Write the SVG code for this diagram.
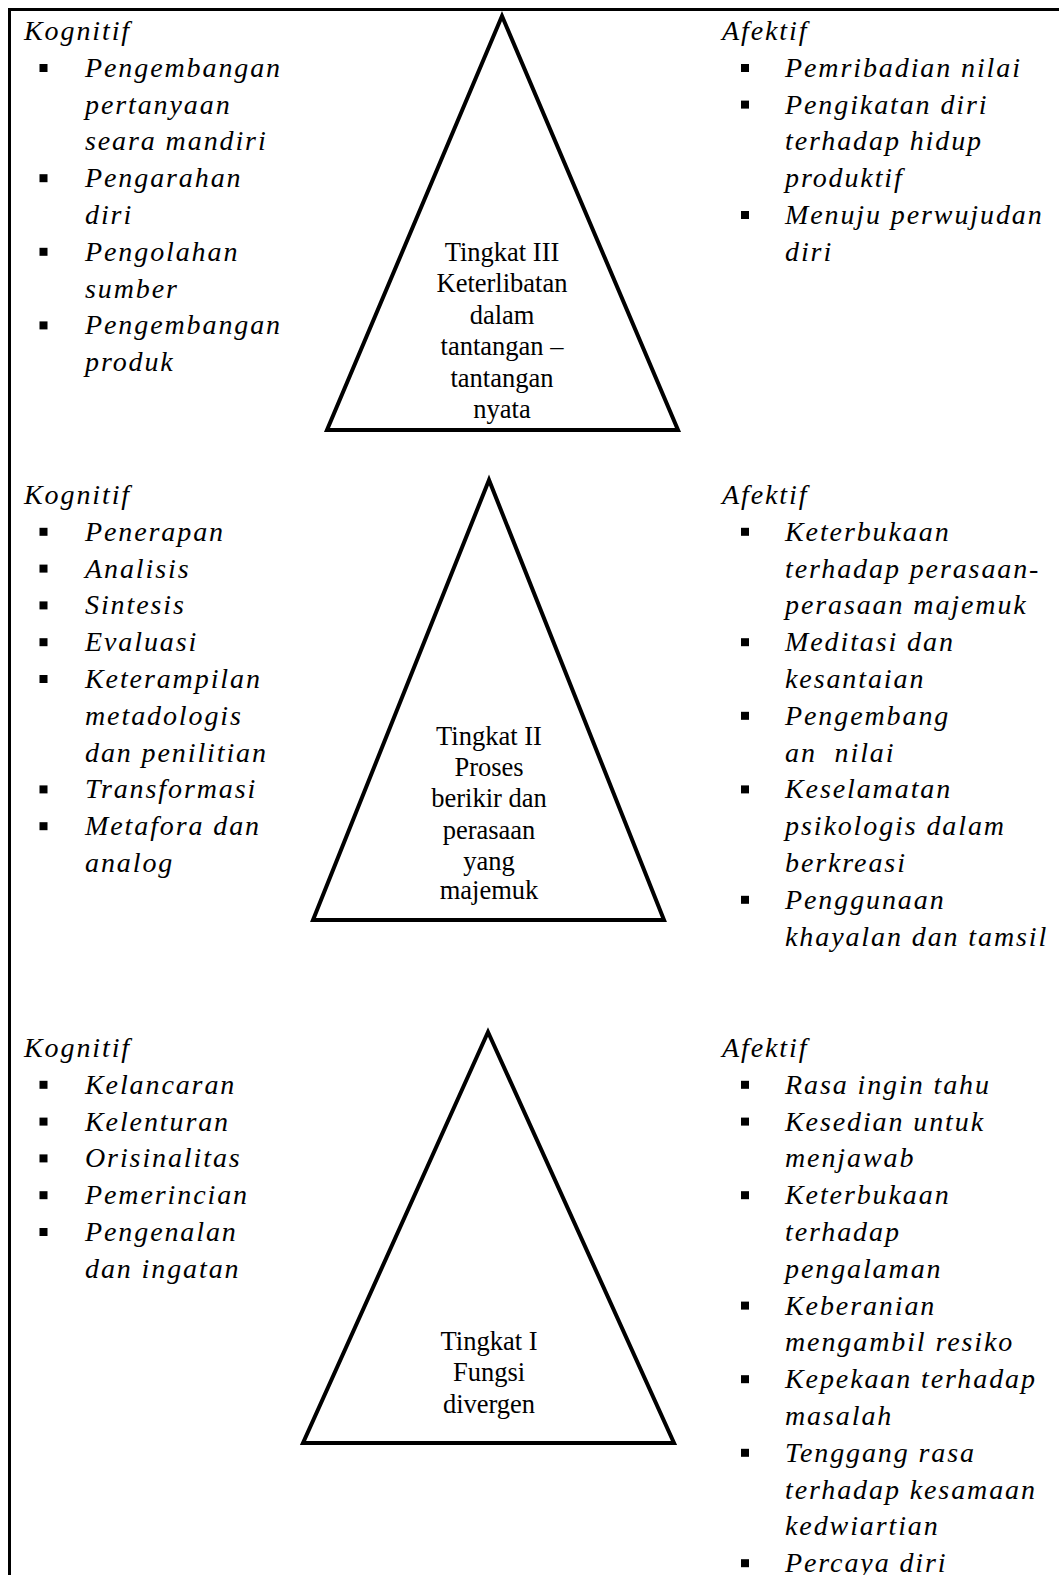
<svg xmlns="http://www.w3.org/2000/svg" width="1059" height="1575" viewBox="0 0 1059 1575">
<style>
.it{font-family:"Liberation Serif","Times New Roman",serif;font-style:italic;font-size:28px;letter-spacing:1.9px;fill:#000}
.tl{font-family:"Liberation Serif","Times New Roman",serif;font-size:26.5px;fill:#000;text-anchor:middle}
.tri{fill:none;stroke:#000;stroke-width:4;stroke-linejoin:miter}
.bd{fill:none;stroke:#000;stroke-width:3}
.b{fill:#000}
</style>
<rect width="1059" height="1575" fill="#fff"/>
<path class="bd" d="M9.5 1575 V9.5 H1059"/>
<g id="connectors"></g>

<g id="tingkat3">
<polygon class="tri" points="502,16 327,430 678,430"/>
<text class="tl" x="502" y="261">Tingkat III</text>
<text class="tl" x="502" y="292.4">Keterlibatan</text>
<text class="tl" x="502" y="323.8">dalam</text>
<text class="tl" x="502" y="355.2">tantangan –</text>
<text class="tl" x="502" y="386.6">tantangan</text>
<text class="tl" x="502" y="418">nyata</text>
</g>

<g id="tingkat2">
<polygon class="tri" points="489,480 313,920 664,920"/>
<text class="tl" x="489" y="744.5">Tingkat II</text>
<text class="tl" x="489" y="775.9">Proses</text>
<text class="tl" x="489" y="807.3">berikir dan</text>
<text class="tl" x="489" y="838.7">perasaan</text>
<text class="tl" x="489" y="870.1">yang</text>
<text class="tl" x="489" y="899">majemuk</text>
</g>

<g id="tingkat1">
<polygon class="tri" points="488,1032 303,1443 674,1443"/>
<text class="tl" x="489" y="1350">Tingkat I</text>
<text class="tl" x="489" y="1381.4">Fungsi</text>
<text class="tl" x="489" y="1412.8">divergen</text>
</g>

<g id="kognitif3">
<text class="it" x="24" y="40">Kognitif</text>
<rect class="b" x="39.5" y="64" width="8" height="8"/>
<text class="it" x="85" y="76.8">Pengembangan</text>
<text class="it" x="85" y="113.6">pertanyaan</text>
<text class="it" x="85" y="150.4">seara mandiri</text>
<rect class="b" x="39.5" y="174.2" width="8" height="8"/>
<text class="it" x="85" y="187.2">Pengarahan</text>
<text class="it" x="85" y="224">diri</text>
<rect class="b" x="39.5" y="247.8" width="8" height="8"/>
<text class="it" x="85" y="260.8">Pengolahan</text>
<text class="it" x="85" y="297.6">sumber</text>
<rect class="b" x="39.5" y="321.4" width="8" height="8"/>
<text class="it" x="85" y="334.4">Pengembangan</text>
<text class="it" x="85" y="371.2">produk</text>
</g>

<g id="afektif3">
<text class="it" x="722" y="40">Afektif</text>
<rect class="b" x="741" y="64" width="8" height="8"/>
<text class="it" x="785" y="76.8">Pemribadian nilai</text>
<rect class="b" x="741" y="100.6" width="8" height="8"/>
<text class="it" x="785" y="113.6">Pengikatan diri</text>
<text class="it" x="785" y="150.4">terhadap hidup</text>
<text class="it" x="785" y="187.2">produktif</text>
<rect class="b" x="741" y="211" width="8" height="8"/>
<text class="it" x="785" y="224">Menuju perwujudan</text>
<text class="it" x="785" y="260.8">diri</text>
</g>

<g id="kognitif2">
<text class="it" x="24" y="504">Kognitif</text>
<rect class="b" x="39.5" y="527.8" width="8" height="8"/>
<text class="it" x="85" y="540.8">Penerapan</text>
<rect class="b" x="39.5" y="564.6" width="8" height="8"/>
<text class="it" x="85" y="577.6">Analisis</text>
<rect class="b" x="39.5" y="601.4" width="8" height="8"/>
<text class="it" x="85" y="614.4">Sintesis</text>
<rect class="b" x="39.5" y="638.2" width="8" height="8"/>
<text class="it" x="85" y="651.2">Evaluasi</text>
<rect class="b" x="39.5" y="675" width="8" height="8"/>
<text class="it" x="85" y="688">Keterampilan</text>
<text class="it" x="85" y="724.8">metadologis</text>
<text class="it" x="85" y="761.6">dan penilitian</text>
<rect class="b" x="39.5" y="785.4" width="8" height="8"/>
<text class="it" x="85" y="798.4">Transformasi</text>
<rect class="b" x="39.5" y="822.2" width="8" height="8"/>
<text class="it" x="85" y="835.2">Metafora dan</text>
<text class="it" x="85" y="872">analog</text>
</g>

<g id="afektif2">
<text class="it" x="722" y="504">Afektif</text>
<rect class="b" x="741" y="527.8" width="8" height="8"/>
<text class="it" x="785" y="540.8">Keterbukaan</text>
<text class="it" x="785" y="577.6">terhadap perasaan-</text>
<text class="it" x="785" y="614.4">perasaan majemuk</text>
<rect class="b" x="741" y="638.2" width="8" height="8"/>
<text class="it" x="785" y="651.2">Meditasi dan</text>
<text class="it" x="785" y="688">kesantaian</text>
<rect class="b" x="741" y="711.8" width="8" height="8"/>
<text class="it" x="785" y="724.8">Pengembang</text>
<text class="it" x="785" y="761.6">an&#160; nilai</text>
<rect class="b" x="741" y="785.4" width="8" height="8"/>
<text class="it" x="785" y="798.4">Keselamatan</text>
<text class="it" x="785" y="835.2">psikologis dalam</text>
<text class="it" x="785" y="872">berkreasi</text>
<rect class="b" x="741" y="895.8" width="8" height="8"/>
<text class="it" x="785" y="908.8">Penggunaan</text>
<text class="it" x="785" y="945.6">khayalan dan tamsil</text>
</g>

<g id="kognitif1">
<text class="it" x="24" y="1057">Kognitif</text>
<rect class="b" x="39.5" y="1080.8" width="8" height="8"/>
<text class="it" x="85" y="1093.8">Kelancaran</text>
<rect class="b" x="39.5" y="1117.6" width="8" height="8"/>
<text class="it" x="85" y="1130.6">Kelenturan</text>
<rect class="b" x="39.5" y="1154.4" width="8" height="8"/>
<text class="it" x="85" y="1167.4">Orisinalitas</text>
<rect class="b" x="39.5" y="1191.2" width="8" height="8"/>
<text class="it" x="85" y="1204.2">Pemerincian</text>
<rect class="b" x="39.5" y="1228" width="8" height="8"/>
<text class="it" x="85" y="1241">Pengenalan</text>
<text class="it" x="85" y="1277.8">dan ingatan</text>
</g>

<g id="afektif1">
<text class="it" x="722" y="1057">Afektif</text>
<rect class="b" x="741" y="1080.8" width="8" height="8"/>
<text class="it" x="785" y="1093.8">Rasa ingin tahu</text>
<rect class="b" x="741" y="1117.6" width="8" height="8"/>
<text class="it" x="785" y="1130.6">Kesedian untuk</text>
<text class="it" x="785" y="1167.4">menjawab</text>
<rect class="b" x="741" y="1191.2" width="8" height="8"/>
<text class="it" x="785" y="1204.2">Keterbukaan</text>
<text class="it" x="785" y="1241">terhadap</text>
<text class="it" x="785" y="1277.8">pengalaman</text>
<rect class="b" x="741" y="1301.6" width="8" height="8"/>
<text class="it" x="785" y="1314.6">Keberanian</text>
<text class="it" x="785" y="1351.4">mengambil resiko</text>
<rect class="b" x="741" y="1375.2" width="8" height="8"/>
<text class="it" x="785" y="1388.2">Kepekaan terhadap</text>
<text class="it" x="785" y="1425">masalah</text>
<rect class="b" x="741" y="1448.8" width="8" height="8"/>
<text class="it" x="785" y="1461.8">Tenggang rasa</text>
<text class="it" x="785" y="1498.6">terhadap kesamaan</text>
<text class="it" x="785" y="1535.4">kedwiartian</text>
<rect class="b" x="741" y="1559.2" width="8" height="8"/>
<text class="it" x="785" y="1572.2">Percaya diri</text>
</g>
</svg>
